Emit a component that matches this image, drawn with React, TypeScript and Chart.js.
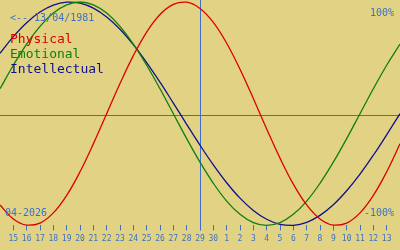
import React, { useEffect, useRef } from "react";
import { Chart, registerables } from "chart.js";

Chart.register(...registerables);

// Day-of-month labels, 14 April 2026 .. 14 May 2026
const dayLabels = [
  "14", "15", "16", "17", "18", "19", "20", "21", "22", "23", "24", "25", "26", "27", "28", "29", "30",
  "1", "2", "3", "4", "5", "6", "7", "8", "9", "10", "11", "12", "13", "14",
];

// Biorhythm values in percent, one per day
const physical = [
  -81.7, -94.2, -99.8, -97.9, -88.8, -73.1, -52.0, -27.0, 0, 27.0, 52.0, 73.1, 88.8, 97.9, 99.8, 94.2,
  81.7, 63.1, 39.8, 13.6, -13.6, -39.8, -63.1, -81.7, -94.2, -99.8, -97.9, -88.8, -73.1, -52.0, -27.0,
];
const emotional = [
  22.3, 43.4, 62.3, 78.2, 90.1, 97.5, 100, 97.5, 90.1, 78.2, 62.3, 43.4, 22.3, 0, -22.3, -43.4,
  -62.3, -78.2, -90.1, -97.5, -100, -97.5, -90.1, -78.2, -62.3, -43.4, -22.3, 0, 22.3, 43.4, 62.3,
];
const intellectual = [
  54.1, 69.0, 81.5, 91.0, 97.2, 99.9, 99.0, 94.5, 86.6, 75.6, 61.8, 45.8, 28.2, 9.5, -9.5, -28.2,
  -45.8, -61.8, -75.6, -86.6, -94.5, -99.0, -99.9, -97.2, -91.0, -81.5, -69.0, -54.1, -37.2, -18.9, 0,
];

const seriesNames = ["Physical", "Emotional", "Intellectual"];
const todayIndex = 15;
const birthText = "<-- 13/04/1981";
const monthText = "04-2026";
const topText = "100%";
const bottomText = "-100%";

const BG = "#e1d383";
const BLUE = "#3c70c8";
const COLORS = ["#dd0000", "#107e10", "#10108c"];
const MONO = "'DejaVu Sans Mono', monospace";

export default function App() {
  const ref = useRef<HTMLCanvasElement | null>(null);

  useEffect(() => {
    if (!ref.current) return;
    const plugin = {
      id: "bio",
      beforeDraw(chart: any) {
        const c = chart.ctx;
        c.save();
        c.fillStyle = BG;
        c.fillRect(0, 0, chart.width, chart.height);
        c.restore();
      },
      beforeDatasetsDraw(chart: any) {
        const c = chart.ctx;
        const { left, right, bottom } = chart.chartArea;
        const y0 = Math.round(chart.scales.y.getPixelForValue(0)) + 1.5;
        const xt = Math.round(chart.scales.x.getPixelForValue(todayIndex)) + 0.5;
        c.save();
        c.strokeStyle = BLUE;
        c.lineWidth = 1;
        c.beginPath();
        c.moveTo(left, y0);
        c.lineTo(right, y0);
        c.moveTo(xt, 0);
        c.lineTo(xt, bottom + 5);
        c.stroke();
        c.restore();
      },
      afterDatasetsDraw(chart: any) {
        const c = chart.ctx;
        const { left, right, top, bottom } = chart.chartArea;
        c.save();
        c.textBaseline = "alphabetic";
        c.font = `10px ${MONO}`;
        c.fillStyle = BLUE;
        c.textAlign = "left";
        c.fillText(birthText, left + 10, top + 19);
        c.fillText(monthText, left + 5, bottom - 9);
        c.textAlign = "right";
        c.fillText(topText, right - 6, top + 14);
        c.fillText(bottomText, right - 6, bottom - 9);
        c.textAlign = "left";
        c.font = `13px ${MONO}`;
        seriesNames.forEach((n, i) => {
          c.fillStyle = COLORS[i];
          c.fillText(n, left + 10, top + 41 + i * 15);
        });
        c.restore();
      },
    };

    const chart = new Chart(ref.current, {
      type: "line",
      data: {
        labels: dayLabels,
        datasets: [physical, emotional, intellectual].map((d, i) => ({
          label: seriesNames[i],
          data: d,
          borderColor: COLORS[i],
          borderWidth: 1.3,
          pointRadius: 0,
          pointHoverRadius: 0,
          tension: 0.4,
          fill: false,
          clip: 4,
        })),
      },
      options: {
        animation: false,
        responsive: false,
        layout: { autoPadding: false, padding: { top: 2, bottom: 2, left: 0, right: 0 } },
        plugins: { legend: { display: false }, tooltip: { enabled: false } },
        scales: {
          x: {
            type: "category",
            offset: false,
            border: { display: false },
            afterFit: (scale: any) => {
              scale.paddingLeft = 0;
              scale.paddingRight = 0;
            },
            grid: {
              drawOnChartArea: false,
              drawTicks: true,
              tickLength: 5,
              color: (ctx: any) =>
                ctx.index === 0 || ctx.index === dayLabels.length - 1 ? "rgba(0,0,0,0)" : BLUE,
            },
            ticks: {
              autoSkip: false,
              maxRotation: 0,
              padding: 4,
              color: BLUE,
              font: { family: MONO, size: 8 },
              callback: (_v: any, i: number) =>
                i === 0 || i === dayLabels.length - 1 ? "" : dayLabels[i],
            },
          },
          y: { display: false, min: -100, max: 100 },
        },
      },
      plugins: [plugin],
    });
    return () => chart.destroy();
  }, []);

  return (
    <div style={{ position: "absolute", left: 0, top: 0, width: 400, height: 250 }}>
      <canvas ref={ref} width={400} height={250} style={{ display: "block" }} />
    </div>
  );
}
